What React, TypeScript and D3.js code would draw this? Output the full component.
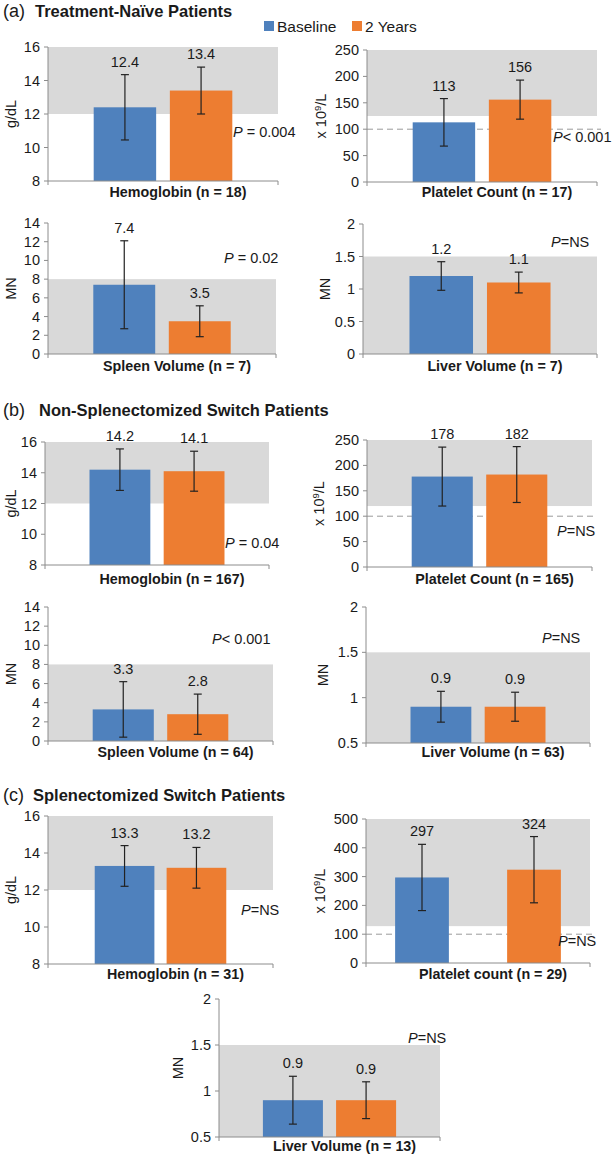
import React from "react";
import * as d3 from "d3";

// ---- data ----
const seriesNames = ["Baseline", "2 Years"];
const seriesColors = ["#4f81bd", "#ed7d31"];

const panelLabels = [
  "Hemoglobin (n = 18)", "Platelet Count (n = 17)", "Spleen Volume (n = 7)", "Liver Volume (n = 7)",
  "Hemoglobin (n = 167)", "Platelet Count (n = 165)", "Spleen Volume (n = 64)", "Liver Volume (n = 63)",
  "Hemoglobin (n = 31)", "Platelet count (n = 29)", "Liver Volume (n = 13)",
];
const baselineMeans = [12.4, 113, 7.4, 1.2, 14.2, 178, 3.3, 0.9, 13.3, 297, 0.9];
const yearMeans = [13.4, 156, 3.5, 1.1, 14.1, 182, 2.8, 0.9, 13.2, 324, 0.9];
const baselineErr = [1.95, 45, 4.7, 0.22, 1.35, 58, 2.9, 0.17, 1.1, 115, 0.26];
const yearErr = [1.4, 37, 1.65, 0.16, 1.3, 55, 2.1, 0.16, 1.1, 115, 0.2];
const valueText = [
  ["12.4", "13.4"], ["113", "156"], ["7.4", "3.5"], ["1.2", "1.1"],
  ["14.2", "14.1"], ["178", "182"], ["3.3", "2.8"], ["0.9", "0.9"],
  ["13.3", "13.2"], ["297", "324"], ["0.9", "0.9"],
];
const axisMin = [8, 0, 0, 0, 8, 0, 0, 0.5, 8, 0, 0.5];
const axisMax = [16, 250, 14, 2, 16, 250, 14, 2, 16, 500, 2];
const axisStep = [2, 50, 2, 0.5, 2, 50, 2, 0.5, 2, 100, 0.5];
const normalLow = [12, 125, 0, 0, 12, 120, 0, 0.5, 12, 128, 0.5];
const normalHigh = [16, 250, 8, 1.5, 16, 250, 8, 1.5, 16, 500, 1.5];
const dashedRef = [null, 100, null, null, null, 100, null, null, null, 100, null];
const units = ["g/dL", "plt", "MN", "MN", "g/dL", "plt", "MN", "MN", "g/dL", "plt", "MN"];
const pValues = [" = 0.004", "< 0.001", " = 0.02", "=NS", " = 0.04", "=NS", "< 0.001", "=NS", "=NS", "=NS", "=NS"];
const sectionTags = ["(a)", "(b)", "(c)"];
const sectionTitles = ["Treatment-Naïve Patients", "Non-Splenectomized Switch Patients", "Splenectomized Switch Patients"];

// ---- layout (pixels) ----
type Lay = { x0: number; x1: number; yTop: number; yBot: number; unitX: number; pX: number; pY: number; labelY: number; pi: number; po: number };
const layout: Lay[] = [
  { x0: 48, x1: 278, yTop: 47, yBot: 181, unitX: 11, pX: 233, pY: 137, labelY: 197, pi: 0.18, po: 0.6 },
  { x0: 367, x1: 597, yTop: 50, yBot: 182, unitX: 321, pX: 553, pY: 142, labelY: 197, pi: 0.18, po: 0.6 },
  { x0: 48, x1: 276, yTop: 223, yBot: 354, unitX: 11, pX: 224, pY: 263, labelY: 371, pi: 0.18, po: 0.6 },
  { x0: 363, x1: 597, yTop: 224, yBot: 354, unitX: 325, pX: 551, pY: 247, labelY: 371, pi: 0.18, po: 0.6 },
  { x0: 45, x1: 269, yTop: 442, yBot: 565, unitX: 11, pX: 225, pY: 548, labelY: 584, pi: 0.18, po: 0.6 },
  { x0: 367, x1: 592, yTop: 440, yBot: 567, unitX: 319, pX: 557, pY: 536, labelY: 584, pi: 0.18, po: 0.6 },
  { x0: 48, x1: 273, yTop: 607, yBot: 741, unitX: 11, pX: 212, pY: 644, labelY: 757, pi: 0.18, po: 0.6 },
  { x0: 366, x1: 590, yTop: 607, yBot: 743, unitX: 323, pX: 542, pY: 643, labelY: 757, pi: 0.18, po: 0.6 },
  { x0: 48, x1: 273, yTop: 816, yBot: 964, unitX: 11, pX: 241, pY: 915, labelY: 979, pi: 0.17, po: 0.65 },
  { x0: 366, x1: 590, yTop: 819, yBot: 963, unitX: 320, pX: 558, pY: 946, labelY: 979, pi: 0.52, po: 0.26 },
  { x0: 219, x1: 440, yTop: 999, yBot: 1137, unitX: 178, pX: 408, pY: 1043, labelY: 1151, pi: 0.18, po: 0.6 },
];
const sectionPos = [
  { tagX: 3, titleX: 35, y: 17 },
  { tagX: 3, titleX: 39, y: 416 },
  { tagX: 3, titleX: 33, y: 801 },
];

const FONT = "'Liberation Sans', Arial, Helvetica, sans-serif";
const AXIS = "#8c8c8c";
const TEXT = "#1a1a1a";

function fmt(v: number) {
  return String(Math.round(v * 100) / 100);
}

function Panel({ i }: { i: number }) {
  const L = layout[i];
  const y = d3.scaleLinear().domain([axisMin[i], axisMax[i]]).range([L.yBot, L.yTop]);
  const x = d3.scaleBand<string>().domain(seriesNames).range([L.x0, L.x1]).paddingInner(L.pi).paddingOuter(L.po);
  const ticks = d3.range(axisMin[i], axisMax[i] + axisStep[i] / 2, axisStep[i]);
  const means = [baselineMeans[i], yearMeans[i]];
  const errs = [baselineErr[i], yearErr[i]];
  const cy = (L.yTop + L.yBot) / 2;
  const ref = dashedRef[i];
  const labelCx = (L.x0 + L.x1) / 2 + 15;
  return (
    <g>
      <rect x={L.x0} y={y(normalHigh[i])} width={L.x1 - L.x0} height={y(normalLow[i]) - y(normalHigh[i])} fill="#d9d9d9" />
      {ref != null && (
        <line x1={L.x0} x2={L.x1 + 4} y1={y(ref)} y2={y(ref)} stroke="#9a9a9a" strokeWidth={1} strokeDasharray="6,4" />
      )}
      {seriesNames.map((s, k) => (
        <rect key={s} x={x(s)} y={y(means[k])} width={x.bandwidth()} height={y(axisMin[i]) - y(means[k])} fill={seriesColors[k]} />
      ))}
      {seriesNames.map((s, k) => {
        const cx = (x(s) as number) + x.bandwidth() / 2;
        const top = y(means[k] + errs[k]);
        const bot = y(means[k] - errs[k]);
        return (
          <g key={s} stroke="#222" strokeWidth={1.2}>
            <line x1={cx} x2={cx} y1={top} y2={bot} />
            <line x1={cx - 4} x2={cx + 4} y1={top} y2={top} />
            <line x1={cx - 4} x2={cx + 4} y1={bot} y2={bot} />
          </g>
        );
      })}
      {seriesNames.map((s, k) => {
        const cx = (x(s) as number) + x.bandwidth() / 2;
        return (
          <text key={s} x={cx} y={y(means[k] + errs[k]) - 8} textAnchor="middle" fontSize={14.5} fill={TEXT}>
            {valueText[i][k]}
          </text>
        );
      })}
      {/* y axis */}
      <line x1={L.x0} x2={L.x0} y1={L.yTop} y2={L.yBot} stroke={AXIS} strokeWidth={1} />
      {ticks.map((t) => (
        <g key={t}>
          <line x1={L.x0 - 4} x2={L.x0} y1={y(t)} y2={y(t)} stroke={AXIS} strokeWidth={1} />
          <text x={L.x0 - 8} y={y(t) + 5} textAnchor="end" fontSize={14.5} fill={TEXT}>
            {fmt(t)}
          </text>
        </g>
      ))}
      {/* x axis */}
      <line x1={L.x0} x2={L.x1} y1={L.yBot} y2={L.yBot} stroke={AXIS} strokeWidth={1} />
      <line x1={L.x0} x2={L.x0} y1={L.yBot} y2={L.yBot + 4} stroke={AXIS} strokeWidth={1} />
      <line x1={L.x1} x2={L.x1} y1={L.yBot} y2={L.yBot + 4} stroke={AXIS} strokeWidth={1} />
      <text x={labelCx} y={L.labelY} textAnchor="middle" fontSize={14.3} fontWeight="bold" fill={TEXT}>
        {panelLabels[i]}
      </text>
      {/* unit */}
      <text transform={`translate(${L.unitX + 5},${cy}) rotate(-90)`} textAnchor="middle" fontSize={14.5} fill={TEXT}>
        {units[i] === "plt" ? (
          <>
            <tspan>x 10</tspan>
            <tspan dy={-5} fontSize={9.5}>9</tspan>
            <tspan dy={5}>/L</tspan>
          </>
        ) : (
          units[i]
        )}
      </text>
      {/* p value */}
      <text x={L.pX} y={L.pY} fontSize={14.5} fill={TEXT} style={{ whiteSpace: "pre" }}>
        <tspan fontStyle="italic">P</tspan>
        <tspan>{pValues[i]}</tspan>
      </text>
    </g>
  );
}

export default function App() {
  return (
    <svg
      width={613}
      height={1155}
      style={{ position: "absolute", left: 0, top: 0, background: "#fff" }}
      fontFamily={FONT}
    >
      <rect width={613} height={1155} fill="#fff" />
      {sectionTags.map((t, s) => (
        <g key={t}>
          <text x={sectionPos[s].tagX} y={sectionPos[s].y} fontSize={18} fill={TEXT}>
            {t}
          </text>
          <text x={sectionPos[s].titleX} y={sectionPos[s].y} fontSize={16.5} fontWeight="bold" fill={TEXT}>
            {sectionTitles[s]}
          </text>
        </g>
      ))}
      {/* legend */}
      {seriesNames.map((s, k) => (
        <g key={s} transform={`translate(${k === 0 ? 264 : 352},0)`}>
          <rect x={0} y={21} width={10} height={10} fill={seriesColors[k]} />
          <text x={13} y={31.5} fontSize={15.5} fill={TEXT}>
            {s}
          </text>
        </g>
      ))}
      {layout.map((_, i) => (
        <Panel key={i} i={i} />
      ))}
    </svg>
  );
}
